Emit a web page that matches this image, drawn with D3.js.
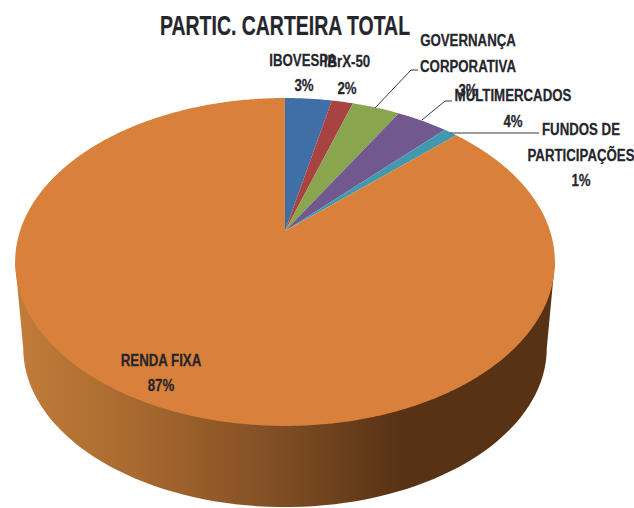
<!DOCTYPE html>
<html>
<head>
	<meta charset="utf-8">
	<script src="https://d3js.org/d3.v7.min.js"></script>
	<style>
		html, body { margin: 0; padding: 0; background: #fff; }
		text { font-family: "Liberation Sans", sans-serif; font-weight: bold; fill: #25262c; stroke: #25262c; stroke-width: 0.25px; text-anchor: middle; dominant-baseline: central; }
	</style>
</head>
<body>
	<script type="text/javascript">
		"use strict";
		// values (share of the slice, in %)
		var categories = ["IBOVESPA", "IBrX-50", "GOVERNANÇA CORPORATIVA", "MULTIMERCADOS", "FUNDOS DE PARTICIPAÇÕES", "RENDA FIXA"];
		var shares = [3.36, 1.54, 3.43, 3.7, 1.0, 87];
		var shareLabels = ["3%", "2%", "3%", "4%", "1%", "87%"];
		var colors = ["#3f6fa6", "#a94341", "#89a54e", "#71588f", "#4198af", "#d9813b"];

		var width = 634, height = 508;

		// the label lines, placed by hand like the data labels of the original
		var labelLines = [
			[categories[0], 303, 60], [shareLabels[0], 304, 85],
			[categories[1], 347, 61], [shareLabels[1], 347, 88],
			["GOVERNANÇA", 468, 40], ["CORPORATIVA", 468, 66], [shareLabels[2], 468, 90],
			[categories[3], 513, 95], [shareLabels[3], 513, 121],
			["FUNDOS DE", 581, 129], ["PARTICIPAÇÕES", 581, 155], [shareLabels[4], 581, 180],
			[categories[5], 161, 360], [shareLabels[5], 161, 385]
		];
		var leaders = [
			[[375, 108], [411, 70], [418, 70]],
			[[422, 120], [445, 101], [452, 101]],
			[[450, 133], [539, 133]]
		];

		var svg = d3.select("body").append("svg")
			.attr("width", width)
			.attr("height", height)
			.style("display", "block");

		// Perspective of the tilted disc: maps a point of the unit circle to the page
		var apexX = 285, apexY = 231, persp = -0.189, scaleX = 265, scaleY = 158.1;
		function project(angle, radius, dy, s) {
			var px = Math.sin(angle) * radius,
				py = -Math.cos(angle) * radius,
				w = 1 + persp * py;
			return [apexX + s * scaleX * px / w, apexY + dy + s * scaleY * py / w];
		}

		var line = d3.line();
		var pie = d3.pie().sort(null).value(function (d) { return d; });

		// Side wall
		var defs = svg.append("defs");
		var grad = defs.append("linearGradient")
			.attr("id", "wall")
			.attr("gradientUnits", "userSpaceOnUse")
			.attr("x1", 14).attr("x2", 555).attr("y1", 0).attr("y2", 0);
		[[0, "#c27c3a"], [0.22, "#a9692f"], [0.45, "#865226"], [0.72, "#573215"], [1, "#573215"]].forEach(function (s) {
			grad.append("stop").attr("offset", s[0]).attr("stop-color", s[1]);
		});

		var rad = Math.PI / 180;
		var wall = [project(259 * rad, 1, 0, 1)]
			.concat(d3.range(259, 100, -2).map(function (a) { return project(a * rad, 1, 87, 0.97); }))
			.concat([project(101 * rad, 1, 87, 0.97), project(101 * rad, 1, 0, 1)]);
		svg.append("path")
			.attr("d", line(wall) + "Z")
			.attr("fill", "url(#wall)");

		// Top face
		svg.append("g").selectAll("path")
			.data(pie(shares))
			.enter()
			.append("path")
			.attr("d", function (d) {
				var n = Math.max(2, Math.ceil((d.endAngle - d.startAngle) / 0.01));
				var pts = d3.range(n + 1).map(function (i) {
					return project(d.startAngle + (d.endAngle - d.startAngle) * i / n, 1, 0, 1);
				});
				return line([[apexX, apexY]].concat(pts)) + "Z";
			})
			.attr("fill", function (d, i) { return colors[i]; });

		// Leader lines
		svg.append("g").selectAll("path")
			.data(leaders)
			.enter()
			.append("path")
			.attr("d", line)
			.attr("fill", "none")
			.attr("stroke", "#3a3a3a")
			.attr("stroke-width", 1);

		// Text is squeezed sideways, the original font is a narrow one
		function squeezed(str, x, y, size, sx) {
			svg.append("text")
				.attr("transform", "translate(" + x + "," + y + ") scale(" + sx + ",1)")
				.style("font-size", size + "px")
				.text(str);
		}

		squeezed("PARTIC. CARTEIRA TOTAL", 285, 25, 28, 0.695);
		labelLines.forEach(function (l) {
			squeezed(l[0], l[1], l[2], 17, 0.78);
		});
	</script>
</body>
</html>
